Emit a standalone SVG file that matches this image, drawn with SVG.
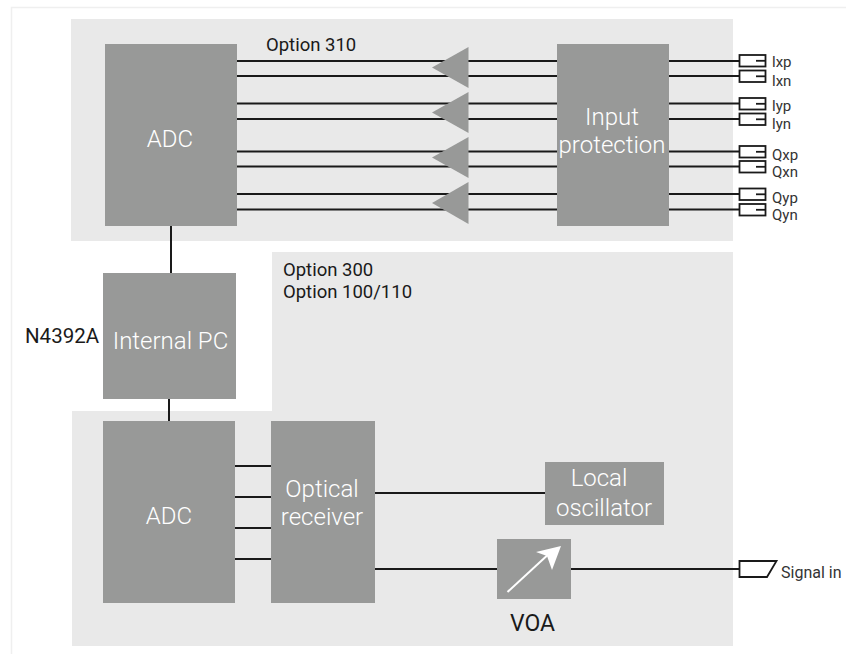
<svg xmlns="http://www.w3.org/2000/svg" width="846" height="654" viewBox="0 0 846 654">
<style>
text{font-family:Roboto,"Liberation Sans",sans-serif;fill:#1a1a1a}
.panel{fill:#e9e9e9}
.block{fill:#989998}
.w{fill:#fff;font-size:24px;text-anchor:middle;font-weight:300}
.l{font-size:18.500px}
.p{font-size:15px;fill:#333}
.c line{stroke:#1a1a1a;stroke-width:2}
.port{fill:#fff;stroke:#1a1a1a;stroke-width:1.800}
.notch{stroke:#1a1a1a;stroke-width:1.800}
</style>
<defs>
<g id="jack"><rect class="port" x="739.500" y="0" width="26" height="11.500"/><line class="notch" x1="756" y1="5.800" x2="766" y2="5.800"/></g>
</defs>
<path id="frame" d="M846 7.500H11.500V654" fill="none" stroke="#efefef" stroke-width="1.500"/>
<rect id="panel-top" class="panel" x="71" y="19" width="662" height="222"/>
<path id="panel-bottom" class="panel" d="M272 252H733V646H72V411H272Z"/>
<g class="c" id="connectors">
<line x1="237" y1="61" x2="739" y2="61"/><line x1="237" y1="76" x2="739" y2="76"/>
<line x1="237" y1="103.500" x2="739" y2="103.500"/><line x1="237" y1="119" x2="739" y2="119"/>
<line x1="237" y1="151.500" x2="739" y2="151.500"/><line x1="237" y1="166.500" x2="739" y2="166.500"/>
<line x1="237" y1="194" x2="739" y2="194"/><line x1="237" y1="209.500" x2="739" y2="209.500"/>
<line x1="171" y1="226" x2="171" y2="273"/><line x1="169" y1="399" x2="169" y2="421"/>
<line x1="235" y1="466" x2="271" y2="466"/><line x1="235" y1="497" x2="271" y2="497"/>
<line x1="235" y1="528" x2="271" y2="528"/><line x1="235" y1="559" x2="271" y2="559"/>
<line x1="375" y1="493" x2="545" y2="493"/><line x1="375" y1="569" x2="497" y2="569"/>
<line x1="571" y1="569" x2="739" y2="569"/>
</g>
<g id="amps" fill="#989998">
<polygon id="amp1" points="432,67.500 468.500,47 468.500,88"/>
<polygon id="amp2" points="432,112.500 468.500,92 468.500,133"/>
<polygon id="amp3" points="432,157.500 468.500,137 468.500,178"/>
<polygon id="amp4" points="432,203 468.500,182 468.500,224"/>
</g>
<g id="adc-top"><rect class="block" x="105" y="44" width="132" height="182"/><text class="w" x="170" y="147">ADC</text></g>
<g id="input-protection"><rect class="block" x="557" y="44" width="112" height="182"/><text class="w" x="612" y="125">Input</text><text class="w" x="612" y="153">protection</text></g>
<g id="internal-pc"><rect class="block" x="103" y="273" width="133" height="126"/><text class="w" x="170.500" y="349">Internal PC</text></g>
<g id="adc-bottom"><rect class="block" x="103" y="421" width="132" height="182"/><text class="w" x="169" y="524">ADC</text></g>
<g id="optical-receiver"><rect class="block" x="271" y="421" width="104" height="182"/><text class="w" x="322" y="497">Optical</text><text class="w" x="322" y="525">receiver</text></g>
<g id="local-oscillator"><rect class="block" x="545" y="462" width="119" height="63"/><text class="w" x="599" y="486">Local</text><text class="w" x="604" y="516">oscillator</text></g>
<g id="voa"><rect class="block" x="497" y="539" width="74" height="60"/>
<line x1="507.500" y1="592" x2="552" y2="551" stroke="#fff" stroke-width="2"/><polygon points="561,546 552,570 547,556 536,552" fill="#fff"/>
<text x="532.500" y="631" font-size="23" text-anchor="middle">VOA</text></g>
<g id="jacks">
<use href="#jack" y="55"/><use href="#jack" y="70.500"/><use href="#jack" y="98"/><use href="#jack" y="113.500"/>
<use href="#jack" y="146"/><use href="#jack" y="161"/><use href="#jack" y="188.500"/><use href="#jack" y="204"/>
</g>
<g id="signal-in"><polygon class="port" points="739.500,561 776.500,561 767,577 739.500,577"/><text class="p" x="781" y="578" style="font-size:16px">Signal in</text></g>
<g id="labels">
<text class="p" x="772" y="67">lxp</text><text class="p" x="772" y="85.500">lxn</text>
<text class="p" x="772" y="110.500">lyp</text><text class="p" x="772" y="129">lyn</text>
<text class="p" x="772" y="160">Qxp</text><text class="p" x="772" y="176.500">Qxn</text>
<text class="p" x="772" y="202.500">Qyp</text><text class="p" x="772" y="220">Qyn</text>
<text class="l" x="266" y="51">Option 310</text>
<text class="l" x="283" y="276">Option 300</text><text class="l" x="283" y="298">Option 100/110</text>
<text x="25" y="342.500" font-size="20.500">N4392A</text>
</g>
</svg>
